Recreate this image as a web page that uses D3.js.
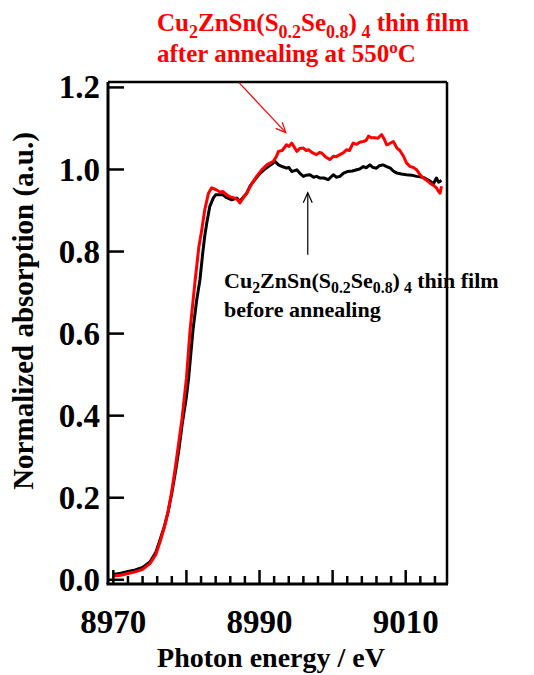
<!DOCTYPE html>
<html><head><meta charset="utf-8">
<script src="https://cdn.jsdelivr.net/npm/d3@7"></script>
<style>
html,body{margin:0;padding:0;background:#fff;}
text{font-family:"Liberation Serif","Times New Roman",serif;font-weight:bold;}
</style></head>
<body>
<svg id="chart" width="534" height="675"></svg>
<script>
// ---- data ----
const energyAfter = [8970.0,8971.0,8972.0,8973.0,8974.0,8975.0,8975.8,8976.4,8977.0,8977.5,8978.0,8978.5,8979.0,8979.4,8980.0,8980.5,8981.2,8981.7,8982.1,8982.5,8983.0,8983.45,8984.0,8984.6,8985.0,8985.6,8986.0,8986.65,8987.0,8987.3,8987.8,8988.25,8988.8,8989.6,8990.3,8991.0,8991.5,8991.9,8992.3,8992.6,8993.1,8993.7,8994.0,8994.4,8994.7,8995.1,8995.5,8996.0,8996.4,8996.7,8997.2,8997.8,8998.2,8998.5,8999.0,8999.6,9000.1,9000.5,9001.0,9001.5,9001.9,9002.3,9002.8,9003.3,9003.7,9004.2,9004.6,9004.9,9005.3,9005.8,9006.2,9006.7,9007.0,9007.4,9007.8,9008.3,9008.8,9009.2,9009.7,9010.1,9010.6,9011.0,9011.5,9012.0,9012.4,9012.9,9013.3,9013.8,9014.2,9014.5,9014.7,9014.9];
const absorptionAfter = [0.008,0.010,0.014,0.018,0.024,0.038,0.060,0.092,0.128,0.166,0.215,0.275,0.340,0.392,0.490,0.608,0.730,0.810,0.852,0.900,0.940,0.954,0.950,0.944,0.945,0.936,0.932,0.929,0.925,0.917,0.930,0.941,0.960,0.982,0.998,1.010,1.015,1.019,1.030,1.043,1.045,1.059,1.055,1.063,1.055,1.043,1.050,1.051,1.045,1.047,1.040,1.035,1.040,1.039,1.030,1.023,1.031,1.030,1.035,1.040,1.047,1.045,1.063,1.060,1.065,1.067,1.070,1.080,1.076,1.076,1.075,1.084,1.075,1.059,1.062,1.067,1.051,1.045,1.031,1.015,1.006,1.004,0.998,0.985,0.978,0.972,0.966,0.960,0.954,0.945,0.941,0.958];
const energyBefore = [8970.0,8971.0,8972.0,8973.0,8974.0,8975.0,8975.8,8976.4,8977.0,8977.5,8978.0,8978.5,8979.0,8979.4,8980.0,8980.3,8980.9,8981.4,8981.85,8982.2,8982.5,8982.8,8983.2,8983.7,8984.0,8984.4,8985.0,8985.5,8986.2,8986.9,8987.3,8987.8,8988.25,8988.7,8989.4,8990.1,8990.6,8991.2,8991.7,8992.1,8992.6,8993.1,8993.7,8994.0,8994.4,8994.8,8995.1,8995.5,8996.0,8996.4,8996.9,8997.4,8997.8,8998.3,8998.8,8999.4,9000.1,9000.5,9001.0,9001.5,9002.1,9002.7,9003.3,9003.7,9004.2,9004.6,9005.1,9005.5,9006.0,9006.4,9006.9,9007.4,9007.9,9008.3,9008.8,9009.4,9010.1,9010.8,9011.5,9012.0,9012.6,9013.2,9013.8,9014.2,9014.5,9014.9];
const absorptionBefore = [0.012,0.015,0.019,0.023,0.029,0.042,0.065,0.097,0.130,0.165,0.210,0.262,0.320,0.376,0.445,0.490,0.608,0.680,0.730,0.790,0.836,0.870,0.909,0.930,0.937,0.937,0.937,0.930,0.925,0.929,0.921,0.932,0.941,0.958,0.975,0.990,0.998,1.006,1.012,1.019,1.010,1.006,1.002,1.004,0.994,0.996,0.998,0.990,0.982,0.985,0.986,0.980,0.982,0.978,0.978,0.974,0.986,0.980,0.982,0.990,0.994,0.995,0.998,1.000,1.006,1.003,1.010,1.004,1.002,1.008,1.010,1.006,1.002,0.995,0.990,0.988,0.986,0.985,0.982,0.981,0.978,0.972,0.964,0.978,0.968,0.972];
const yTicks = [0.0,0.2,0.4,0.6,0.8,1.0,1.2];
const xLabelTicks = [8970,8990,9010];
const xMajorTicks = [8970,8980,8990,9000,9010];
const xMinorTicks = d3.range(8970, 9015, 2);
// arrow anchor points in data units [energy, absorption]
const arrowAfter = [[8987.2,1.2105],[8993.6,1.0885]];
const arrowBefore = [[8996.6,0.791],[8996.6,0.942]];

// ---- layout ----
const svg = d3.select("#chart");
const L = 108, R = 447, T = 82, B = 584;
const x = d3.scaleLinear().domain([8969.27, 9015.65]).range([L, R]);
const y = d3.scaleLinear().domain([-0.0115, 1.212]).range([B, T]);

// curves
const line = d3.line().x(d => x(d[0])).y(d => y(d[1]));
svg.append("clipPath").attr("id","c").append("rect").attr("x",L).attr("y",T).attr("width",R-L).attr("height",B-T);
const g = svg.append("g").attr("clip-path","url(#c)");
g.append("path").datum(d3.zip(energyBefore, absorptionBefore))
  .attr("d", line).attr("fill","none").attr("stroke","#000").attr("stroke-width",3).attr("stroke-linejoin","round");
g.append("path").datum(d3.zip(energyAfter, absorptionAfter))
  .attr("d", line).attr("fill","none").attr("stroke","#ff0000").attr("stroke-width",3).attr("stroke-linejoin","round");

// frame
svg.append("line").attr("x1",L).attr("x2",R).attr("y1",T).attr("y2",T).attr("stroke","#000").attr("stroke-width",2.5);
svg.append("line").attr("x1",R).attr("x2",R).attr("y1",T).attr("y2",B).attr("stroke","#000").attr("stroke-width",2.5);

// y axis
const yAxis = d3.axisRight(y).tickValues(yTicks).tickSize(16).tickFormat("");
const ya = svg.append("g").attr("transform",`translate(${L},0)`).call(yAxis);
ya.select(".domain").attr("stroke-width",3).attr("d",`M0,${T}V${B}`);
ya.selectAll(".tick line").attr("stroke-width",2.5);
svg.append("g").selectAll("text").data(yTicks).join("text")
  .attr("x", L-8).attr("y", d => y(d)).attr("dy","0.35em")
  .attr("text-anchor","end").attr("font-size",33).text(d => d.toFixed(1));

// x axis
const xa = svg.append("g").attr("transform",`translate(0,${B})`);
xa.append("line").attr("x1",L-1.5).attr("x2",R+1).attr("y1",0).attr("y2",0).attr("stroke","#000").attr("stroke-width",3);
xa.selectAll("line.minor").data(xMinorTicks).join("line").attr("class","minor")
  .attr("x1",d=>x(d)).attr("x2",d=>x(d)).attr("y1",0).attr("y2",d => xMajorTicks.includes(d) ? -14 : -8)
  .attr("stroke","#000").attr("stroke-width",2.5);
xa.selectAll("text").data(xLabelTicks).join("text")
  .attr("x",d=>x(d)).attr("y",49).attr("text-anchor","middle").attr("font-size",33).text(d=>d);

// axis titles
svg.append("text").attr("x",271).attr("y",667).attr("text-anchor","middle").attr("font-size",28).text("Photon energy / eV");
svg.append("text").attr("transform","translate(33,311) rotate(-90)").attr("text-anchor","middle").attr("font-size",29).text("Normalized absorption (a.u.)");

// annotations
function formula(sel, size, drop){
  const sub = size*0.72, dd = size*drop;
  const parts = [["Cu",0],["2",1],["ZnSn(S",0],["0.2",1],["Se",0],["0.8",1],[")",0],[" 4",1],[" thin film",0]];
  let prev = 0;
  parts.forEach(p => {
    const t = sel.append("tspan").text(p[0]).attr("font-size", p[1] ? sub : size);
    const shift = p[1] ? dd : 0;
    if (shift !== prev) t.attr("dy", shift - prev);
    prev = shift;
  });
}
const t1 = svg.append("text").attr("x",157).attr("y",31).attr("fill","#ff0000").attr("font-size",25);
formula(t1, 25, 0.27);
const t2 = svg.append("text").attr("x",157).attr("y",62).attr("fill","#ff0000").attr("font-size",25);
t2.append("tspan").text("after annealing at 550");
t2.append("tspan").text("o").attr("font-size",17).attr("dy",-9);
t2.append("tspan").text("C").attr("dy",9);

const t3 = svg.append("text").attr("x",224).attr("y",288).attr("fill","#000").attr("font-size",22);
formula(t3, 22, 0.22);
svg.append("text").attr("x",224).attr("y",317).attr("font-size",22).text("before annealing");

// arrows
function arrow(pts, color){
  const [p0,p1] = pts.map(p => [x(p[0]), y(p[1])]);
  const ang = Math.atan2(p1[1]-p0[1], p1[0]-p0[0]);
  const hl = 11, ha = 0.42;
  svg.append("line").attr("x1",p0[0]).attr("y1",p0[1]).attr("x2",p1[0]).attr("y2",p1[1]).attr("stroke",color).attr("stroke-width",1.2);
  const h = [ang+Math.PI-ha, ang+Math.PI+ha].map(a => [p1[0]+hl*Math.cos(a), p1[1]+hl*Math.sin(a)]);
  svg.append("path").attr("d",`M${h[0][0]},${h[0][1]}L${p1[0]},${p1[1]}L${h[1][0]},${h[1][1]}`)
    .attr("fill","none").attr("stroke",color).attr("stroke-width",1.2);
}
arrow(arrowAfter, "#ff0000");
arrow(arrowBefore, "#000");
</script>
</body></html>
